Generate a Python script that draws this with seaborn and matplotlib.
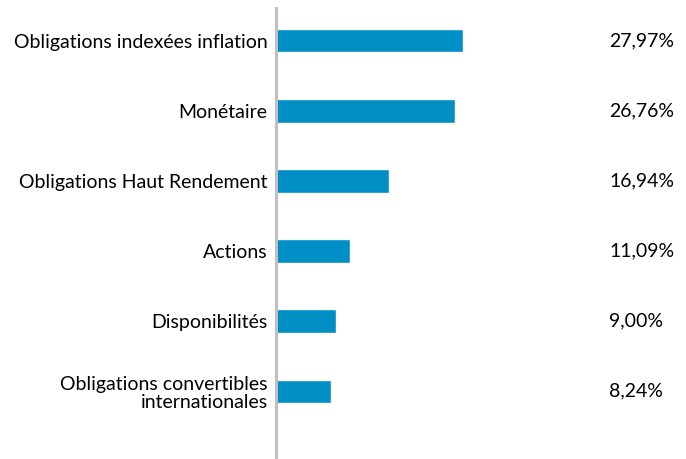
import seaborn as sns
import pandas as pd
import matplotlib.pyplot as plt

categories = [
    "Obligations indexées inflation",
    "Monétaire",
    "Obligations Haut Rendement",
    "Actions",
    "Disponibilités",
    "Obligations convertibles\ninternationales",
]
values = [27.97, 26.76, 16.94, 11.09, 9.00, 8.24]
labels = ["27,97%", "26,76%", "16,94%", "11,09%", "9,00%", "8,24%"]


def main():
    df = pd.DataFrame({"cat": categories, "val": values})
    sns.set_theme(style="white")
    plt.rcParams["font.family"] = ["Lato", "DejaVu Sans"]

    fig = plt.figure(figsize=(6.86, 4.59), dpi=100)
    ax = fig.add_axes([276 / 686, 0, 1 - 276 / 686, 451 / 459])
    sns.barplot(data=df, x="val", y="cat", color="#008FC5", width=0.33,
                saturation=1, ax=ax)

    ax.set_xlim(0, (686 - 276) / 6.69)
    ax.set_ylim(5.97, -0.47)
    ax.set_xlabel("")
    ax.set_ylabel("")
    ax.set_xticks([])
    for s in ["top", "right", "bottom"]:
        ax.spines[s].set_visible(False)
    ax.spines["left"].set_color("#C0C0C0")
    ax.spines["left"].set_linewidth(2.2)
    ax.tick_params(axis="y", length=0, pad=6, labelsize=14, labelcolor="#000000")
    for t in ax.get_yticklabels():
        t.set_ha("right")
        t.set_multialignment("right")
        t.set_linespacing(1.1)

    for i, lab in enumerate(labels):
        ax.text((609 - 276) / 6.69, i, lab, ha="left", va="center",
                fontsize=14, color="#000000")

    fig.savefig("out.png", dpi=100)


if __name__ == "__main__":
    main()
